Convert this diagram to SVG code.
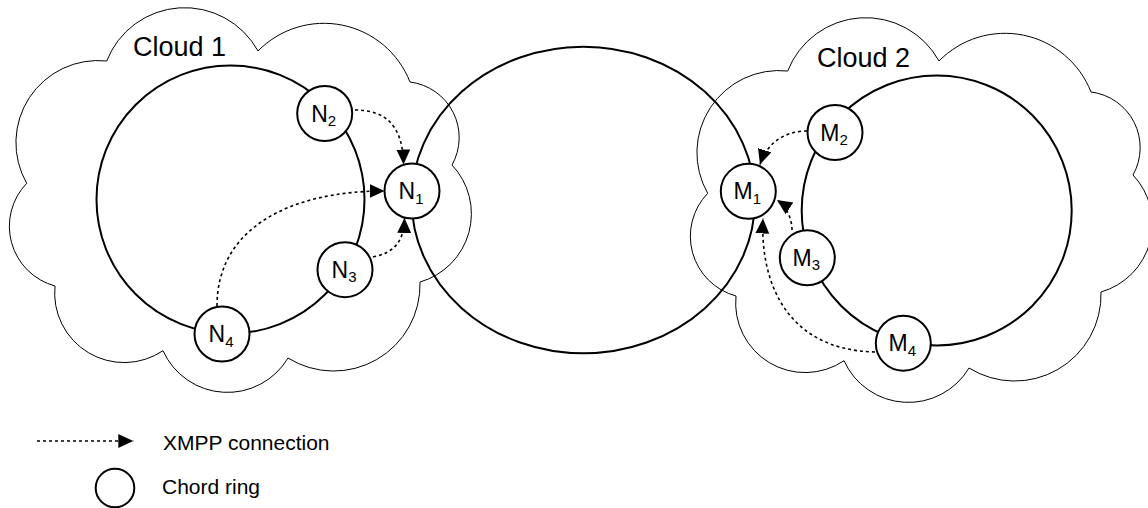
<svg xmlns="http://www.w3.org/2000/svg" width="1148" height="508" viewBox="0 0 1148 508">
<style>
.ring{fill:none;stroke:#000;stroke-width:2}
.node{fill:#fff;stroke:#000;stroke-width:2}
.conn{fill:none;stroke:#000;stroke-width:1.6;stroke-dasharray:3 3}
text{font-family:"Liberation Sans",Arial,sans-serif;fill:#000}
.lbl{font-size:23px}
.sub{font-size:15px}
.cl{font-size:27px}
.lg{font-size:21px}
</style>
<defs>
<path id="cloudShape" fill="none" stroke="#000" stroke-width="1" d="M106.7,61 A83.7,83.7 0 0 1 258,51 A92.4,92.4 0 0 1 410,82 A56,56 0 0 1 452,165 A71,71 0 0 1 420,282 A86.4,86.4 0 0 1 288,358 A70.6,70.6 0 0 1 163,350.7 A69.5,69.5 0 0 1 55,286 A61.9,61.9 0 0 1 26.7,183.3 A82.1,82.1 0 0 1 106.7,61 Z"/>
<marker id="ah" markerUnits="userSpaceOnUse" markerWidth="16" markerHeight="16" refX="15" refY="7" orient="auto"><path d="M0,0 L15,7 L0,14 Z" fill="#000"/></marker>
</defs>

<g id="cloud1">
<use href="#cloudShape"/>
<text class="cl" x="133" y="56">Cloud 1</text>
</g>
<g id="cloud2">
<use href="#cloudShape" transform="translate(681,10)"/>
<text class="cl" x="817" y="66.7">Cloud 2</text>
</g>

<g id="rings">
<circle id="ring1" class="ring" cx="230.5" cy="199.5" r="134"/>
<ellipse id="ringMid" class="ring" cx="583.3" cy="200" rx="171.7" ry="153.3"/>
<circle id="ring2" class="ring" cx="936.7" cy="210.5" r="135"/>
</g>

<g id="N1"><circle class="node" cx="412" cy="191" r="27.5"/><text class="lbl" x="411" y="199" text-anchor="middle">N<tspan class="sub" dy="4.5">1</tspan></text></g>
<g id="N2"><circle class="node" cx="324.7" cy="113.5" r="27.5"/><text class="lbl" x="323.7" y="121.5" text-anchor="middle">N<tspan class="sub" dy="4.5">2</tspan></text></g>
<g id="N3"><circle class="node" cx="345" cy="269.7" r="27.5"/><text class="lbl" x="344" y="277.7" text-anchor="middle">N<tspan class="sub" dy="4.5">3</tspan></text></g>
<g id="N4"><circle class="node" cx="222" cy="334" r="27.5"/><text class="lbl" x="221" y="342" text-anchor="middle">N<tspan class="sub" dy="4.5">4</tspan></text></g>

<g id="M1"><circle class="node" cx="748.3" cy="191.3" r="27.5"/><text class="lbl" x="747.3" y="199.3" text-anchor="middle">M<tspan class="sub" dy="4.5">1</tspan></text></g>
<g id="M2"><circle class="node" cx="835" cy="132.5" r="27.5"/><text class="lbl" x="834" y="140.5" text-anchor="middle">M<tspan class="sub" dy="4.5">2</tspan></text></g>
<g id="M3"><circle class="node" cx="807.3" cy="257.8" r="27.5"/><text class="lbl" x="806.3" y="265.8" text-anchor="middle">M<tspan class="sub" dy="4.5">3</tspan></text></g>
<g id="M4"><circle class="node" cx="903.3" cy="343.2" r="27.5"/><text class="lbl" x="902.3" y="351.2" text-anchor="middle">M<tspan class="sub" dy="4.5">4</tspan></text></g>

<g id="connectors">
<path class="conn" marker-end="url(#ah)" d="M355,110 C385,110 403,125 403.5,164.5"/>
<path class="conn" marker-end="url(#ah)" d="M217,306 C217,228 290,191 384.5,191"/>
<path class="conn" marker-end="url(#ah)" d="M373,257 C392,253 404,244 404.5,218"/>
<path class="conn" marker-end="url(#ah)" d="M807,131 C788,131 768,140 760,164.5"/>
<path class="conn" marker-end="url(#ah)" d="M792,230 C792,218 786,206 777,200"/>
<path class="conn" marker-end="url(#ah)" d="M875,352 C785,350 760,280 763,218.5"/>
</g>

<g id="legend">
<path class="conn" marker-end="url(#ah)" d="M37,441 L133.3,441"/>
<text class="lg" x="163" y="450">XMPP connection</text>
<circle class="ring" cx="115" cy="488" r="19.3"/>
<text class="lg" x="162" y="494">Chord ring</text>
</g>
</svg>
